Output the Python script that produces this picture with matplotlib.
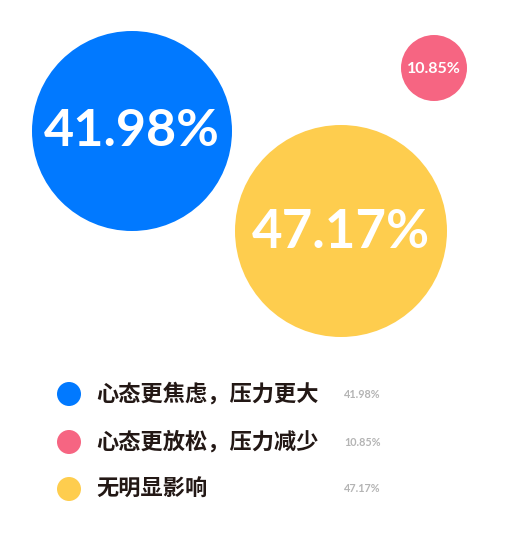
import matplotlib.pyplot as plt
from matplotlib.patches import Circle

plt.rcParams['font.family'] = ['Noto Sans CJK SC', 'DejaVu Sans']

# data
labels = ['心态更焦虑，压力更大', '心态更放松，压力减少', '无明显影响']
values = [41.98, 10.85, 47.17]
colors = ['#0179FF', '#F66582', '#FECD4E']

# bubble layout (pixels)
cx = [132, 434, 341]
cy = [131, 68, 231]
rad = [100, 33, 106]
fsize = [37.5, 11.5, 38]

fig = plt.figure(figsize=(5.25, 5.40), dpi=100)
ax = fig.add_axes([0, 0, 1, 1])
ax.set_xlim(0, 525)
ax.set_ylim(540, 0)
ax.axis('off')

for i in range(len(values)):
    ax.add_patch(Circle((cx[i], cy[i]), rad[i], color=colors[i], lw=0))
    ax.text(cx[i], cy[i] + 1, '%.2f%%' % values[i], color='white', fontsize=fsize[i],
            fontweight='bold', family='Lato', ha='center', va='center')

# legend
leg_y = [394, 442, 489]
for i in range(len(values)):
    ax.add_patch(Circle((69, leg_y[i]), 12, color=colors[i], lw=0))
    ax.text(96, leg_y[i], labels[i], fontsize=16, fontweight='bold', color='#231815',
            ha='left', va='center')
    ax.text(344, leg_y[i], '%.2f%%' % values[i], fontsize=7.8, fontweight='bold',
            color='#b4b4b4', family='Lato', ha='left', va='center')

fig.savefig('out.png', dpi=100)
